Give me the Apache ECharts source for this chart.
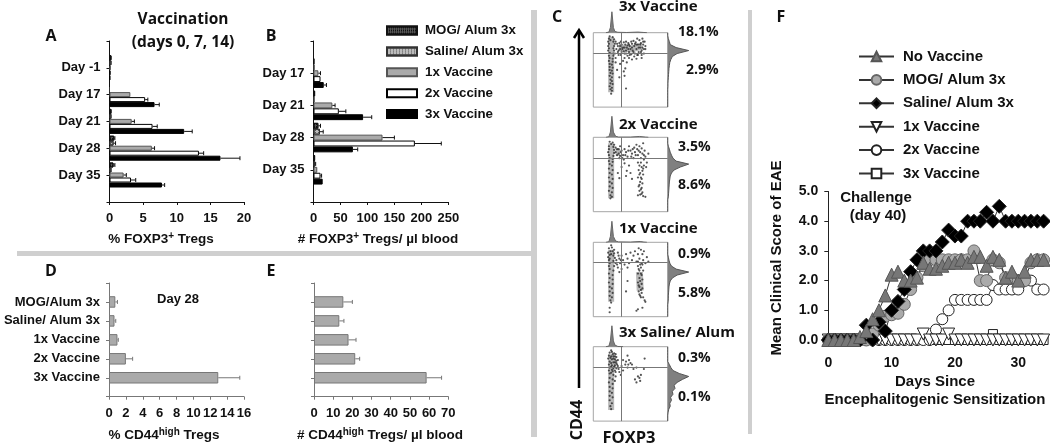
<!DOCTYPE html>
<html><head><meta charset="utf-8">
<style>html,body{margin:0;padding:0;background:#fff}#c{width:1050px;height:446px}</style>
<script src="https://cdn.jsdelivr.net/npm/echarts@6/dist/echarts.min.js"></script>
</head><body><div id="c"></div>
<script>
// ---- Panel A: % FOXP3+ Tregs
const daysA = ['Day -1','Day 17','Day 21','Day 28','Day 35'];
const aMog = [0.3,0,0.3,0.7,0.6];      const aMogE = [null,null,null,0.8,0.8];
const aSal = [0.3,0,0.3,0.6,0.3];      const aSalE = [null,null,null,0.9,null];
const a1x  = [0.2,3.1,3.3,6.3,2.1];    const a1xE  = [null,null,3.7,6.7,2.5];
const a2x  = [0.15,5.3,6.4,13.3,3.2];  const a2xE  = [null,5.7,7.1,14,3.9];
const a3x  = [0.1,6.7,11.1,16.5,7.8];  const a3xE  = [null,7.4,12.3,19.4,8.2];
// ---- Panel B: # FOXP3+ Tregs / ul blood
const daysB = ['Day 17','Day 21','Day 28','Day 35'];
const bMog = [1,3,9,3];        const bMogE = [null,null,13,null];
const bSal = [1,1,12,3];       const bSalE = [null,null,18,4];
const b1x  = [9,35,128,7];     const b1xE  = [13,40,150,null];
const b2x  = [13,47,188,13];   const b2xE  = [null,60,237,15];
const b3x  = [19,92,73,17];    const b3xE  = [24,108,82,null];
// ---- Panels D, E: day 28
const groups = ['MOG/Alum 3x','Saline/ Alum 3x','1x Vaccine','2x Vaccine','3x Vaccine'];
const dVals = [0.75,0.65,1.0,2.0,12.95];  const dErr = [1.0,0.8,1.1,2.8,15.5];
const eVals = [15.3,13.2,18,21.5,58.7];   const eErr = [20,15.6,21.9,23.8,66.5];
// ---- Panel F: mean clinical score, days 0-34
const noVaccine = [0,0,0,0,0,0.1,0.3,0.7,1.0,1.5,2.2,2.3,2.0,2.0,2.1,2.6,2.4,2.4,2.5,2.6,2.6,2.7,2.6,2.8,2.8,2.5,2.8,2.7,2.1,2.3,2.0,2.3,2.7,2.7,2.7];
const mogAlum   = [0,0,0,0,0,0,0,0.2,0.5,0.8,0.85,0.9,1.2,1.7,2.1,2.5,2.7,2.7,2.7,2.7,2.7,2.7,2.7,3.0,2.0,2.0,2.7,2.6,2.1,2.1,2.0,2.0,2.6,2.7,2.7];
const salAlum   = [0,0,0,0,0,0,0.5,0,0.6,0.3,1.0,1.3,1.7,2.3,2.7,3.0,3.0,3.0,3.3,3.7,3.5,3.5,4.0,4.0,4.0,4.3,4.0,4.5,4.0,4.0,4.0,4.0,4.0,4.0,4.0];
const vac1x     = [0,0,0,0,0,0,0,0,0,0,0,0,0,0,0,0.2,0,0,0,0.2,0,0,0,0,0,0,0,0,0,0,0,0,0,0,0];
const vac2x     = [0,0,0,0,0,0,0,0,0,0,0,0,0,0,0,0,0,0.35,0.7,1.0,1.35,1.35,1.35,1.35,1.35,1.35,1.85,1.7,1.7,1.7,1.7,2.0,2.0,1.7,1.7];
const vac3x     = [0,0,0,0,0,0,0,0,0,0,0,0,0,0,0,0,0,0,0,0,0,0,0,0,0,0,0.2,0,0,0,0,0,0,0,0];
// ---- Panel C: flow plots, values in percent of the plot box
const flowTitles = ['3x Vaccine','2x Vaccine','1x Vaccine','3x Saline/ Alum'];
const flowUpper = ['18.1%','3.5%','0.9%','0.3%'];
const flowLower = ['2.9%','8.6%','5.8%','0.1%'];
const flowGateX = [37,37,37.5,37.5];
const flowGateY = [72,72,73,72];
const flowBand1 = [[24,94],[24,20]];  const flowBlob1 = [[34,80],[50,78],[66,82]];
const flowBand2 = [[24,92],[24,18]];  const flowBlob2 = [[30,80],[36,80]];
const flowBand3 = [[24,90],[24,20]];  const flowBlob3 = [[62,60],[63,35]];
const flowBand4 = [[24,90],[24,15]];  const flowBlob4 = [[26,88],[26,72]];
const flowDots1 = [[22,95],[26,94],[21,92],[28,91],[23,90],[20,88],[27,88],[21,85],[29,85],[20,82],[28,82],[21,79],[27,79],[20,76],[28,76],[22,73],[27,72],[21,69],[27,69],[22,66],[26,65],[21,62],[26,61],[22,58],[25,57],[22,54],[26,53],[22,50],[25,49],[23,46],[26,45],[22,42],[25,40],[23,37],[25,35],[23,32],[26,31],[22,28],[25,26],[23,24],[25,22],[24,18],[30,88],[33,82],[35,86],[36,78],[38,84],[38,74],[40,80],[41,87],[42,72],[43,84],[44,76],[45,80],[46,69],[47,86],[48,74],[49,82],[50,78],[51,71],[52,85],[53,76],[54,89],[55,82],[56,72],[57,87],[58,78],[59,92],[60,84],[61,74],[62,90],[63,80],[64,86],[65,76],[66,92],[67,84],[68,78],[69,88],[70,82],[60,70],[55,68],[65,70],[68,72],[48,66],[42,66],[37,70],[36,58],[40,62],[45,60],[41,48],[43,52],[42,42],[44,25],[30,60],[32,50],[35,40],[52,64],[58,65],[65,66],[31,78],[33,74],[34,70],[44,88],[37,88],[47,78],[52,80],[58,84],[63,84],[66,80],[32,85],[34,76],[39,78],[41,75],[44,72],[46,83],[49,70],[51,88],[54,74],[56,85],[59,70],[61,80],[64,74],[67,88],[70,78],[29,72],[30,66],[36,82],[42,80],[48,84]];
const flowDots2 = [[22,94],[26,93],[24,91],[28,90],[21,88],[27,87],[30,86],[21,84],[28,83],[20,80],[28,79],[21,76],[27,75],[22,72],[26,71],[21,68],[26,67],[22,64],[25,62],[21,58],[26,56],[22,52],[25,50],[21,46],[26,44],[22,40],[25,38],[22,34],[26,32],[21,28],[25,26],[23,22],[25,20],[23,18],[32,84],[34,78],[35,72],[36,88],[38,82],[40,76],[41,70],[42,84],[44,80],[46,74],[48,88],[50,82],[52,78],[54,72],[55,86],[56,80],[58,90],[59,84],[60,76],[62,88],[63,80],[64,72],[65,85],[66,78],[67,92],[68,70],[69,82],[70,74],[72,66],[74,78],[71,60],[60,66],[62,62],[65,60],[68,62],[61,56],[66,55],[62,50],[67,50],[60,46],[65,44],[63,40],[66,38],[61,34],[65,32],[62,28],[66,26],[63,23],[67,21],[60,22],[70,20],[38,60],[42,65],[45,55],[44,48],[48,62],[50,52],[52,44],[33,52],[35,45],[30,80],[32,76],[34,84],[36,75],[37,80],[39,72],[43,76],[47,82],[51,74],[53,84],[57,76],[61,82],[64,66],[67,58],[63,52],[64,46],[62,36],[64,30],[65,24],[68,76]];
const flowDots3 = [[21,92],[25,93],[28,90],[23,88],[20,86],[28,85],[22,83],[27,82],[20,80],[29,79],[21,76],[27,75],[22,72],[30,72],[21,68],[28,68],[22,64],[27,62],[21,58],[26,56],[22,52],[26,50],[21,46],[26,44],[22,40],[25,38],[22,34],[26,32],[22,28],[25,26],[23,22],[24,19],[33,86],[35,78],[36,72],[38,82],[40,76],[42,70],[44,84],[46,78],[48,72],[50,86],[52,76],[54,82],[56,88],[58,74],[60,84],[61,92],[62,78],[64,90],[65,72],[66,84],[67,76],[68,88],[70,72],[72,80],[74,74],[60,68],[64,66],[62,62],[67,62],[60,58],[65,56],[62,52],[66,50],[60,46],[65,44],[62,40],[66,38],[61,34],[65,32],[63,28],[67,26],[69,22],[70,20],[46,48],[44,34],[35,60],[33,66],[38,64],[46,66],[60,10],[58,8],[66,12],[22,12],[22,6],[31,76],[32,70],[34,82],[37,76],[60,74],[63,70],[66,70],[61,64],[64,58],[63,48],[61,42],[64,36],[62,30],[64,26],[24,96],[26,88],[24,84],[22,78]];
const flowDots4 = [[22,92],[25,93],[28,91],[30,90],[21,88],[24,87],[27,87],[31,86],[20,84],[25,83],[29,83],[33,82],[22,80],[27,79],[31,78],[21,76],[25,75],[29,75],[33,74],[22,72],[27,71],[31,71],[21,68],[26,67],[30,66],[22,64],[27,62],[30,60],[22,58],[26,56],[29,54],[21,52],[26,50],[22,46],[26,44],[22,40],[25,38],[22,34],[26,32],[22,28],[25,24],[23,20],[24,16],[46,88],[69,84],[40,82],[44,80],[48,82],[50,78],[43,76],[47,76],[52,76],[38,74],[46,72],[54,70],[58,72],[68,70],[40,68],[37,62],[60,60],[64,62],[62,58],[56,56],[58,52],[63,54],[34,70],[35,66],[24,95],[26,90],[29,87],[23,85],[27,84],[31,81],[24,78],[29,79],[32,76],[24,73],[28,73],[25,69],[29,68],[24,65]];
const flowTop1 = [[17,0],[21,3],[23,25],[25,100],[27,25],[29,6],[33,2],[45,1],[60,3],[68,1],[72,0]];
const flowTop2 = [[17,0],[21,3],[23,25],[25,100],[27,25],[30,5],[34,1],[50,1],[62,4],[70,1],[74,0]];
const flowTop3 = [[17,0],[21,3],[23,28],[25,100],[27,28],[30,6],[34,2],[50,1],[63,4],[68,1],[72,0]];
const flowTop4 = [[17,0],[21,3],[23,28],[25,100],[27,28],[29,8],[33,1],[40,0]];
const flowSide1 = [0,0,3,8,12,40,100,45,22,15,10,8,6,5,4,3,2,1,1,0,0,0,0,0,0,0];
const flowSide2 = [0,0,0,3,8,12,18,25,40,100,60,30,18,12,10,8,7,6,5,4,3,0,0,0,0,0];
const flowSide3 = [0,0,0,0,0,3,6,10,18,40,100,45,22,12,8,6,5,4,3,3,2,0,0,0,0,0];
const flowSide4 = [0,0,0,0,0,0,8,15,25,55,100,70,45,30,35,22,25,14,18,10,12,5,2,0,0,0];

const SANS = '"Liberation Sans", Arial, sans-serif';
const OPEN = '"Open Sans", sans-serif';
const grid=[], xAxis=[], yAxis=[], series=[], graphic=[];

const rowStyle = {
  mog: {color:'#555', borderColor:'#111', borderWidth:1, decal:{symbol:'rect',symbolSize:1,dashArrayX:[1,1],dashArrayY:[2,1],rotation:0,color:'#111'}},
  sal: {color:'#bbb', borderColor:'#333', borderWidth:1, decal:{symbol:'rect',symbolSize:1,dashArrayX:[1,2],dashArrayY:[1,1],rotation:0,color:'#555'}},
  x1:  {color:'#aaa', borderColor:'#555', borderWidth:1},
  x2:  {color:'#fff', borderColor:'#000', borderWidth:1},
  x3:  {color:'#000', borderColor:'#000', borderWidth:1}
};

function errorSeries(xi, yi, vals, errs, slot, color){
  return {type:'custom', coordinateSystem:'cartesian2d', xAxisIndex:xi, yAxisIndex:yi, clip:false, silent:true, z:5,
    data: vals.map((v,i)=>[v,i,errs[i]]).filter(d=>d[2]!=null),
    encode:{x:0,y:1},
    renderItem(p,api){
      const a=api.coord([api.value(0),api.value(1)]), b=api.coord([api.value(2),api.value(1)]), y=a[1]+slot;
      const st={stroke:color,lineWidth:1,fill:null};
      return {type:'group',children:[
        {type:'line',shape:{x1:a[0],y1:y,x2:b[0],y2:y},style:st},
        {type:'line',shape:{x1:b[0],y1:y-2,x2:b[0],y2:y+2},style:st}]};
    }};
}

function barPanel(o){
  const fi=grid.length;
  // frame: carries the full-height vertical axis line
  grid.push({left:o.left,top:o.frameTop,width:o.width,height:o.frameH});
  xAxis.push({type:'value',gridIndex:fi,min:0,max:o.max,show:false});
  yAxis.push({type:'value',gridIndex:fi,min:0,max:o.slots,interval:1,inverse:true,
    axisLine:{show:true,lineStyle:{color:o.axisColor,width:1}},
    axisTick:{show:true,length:3,lineStyle:{color:o.axisColor}},axisLabel:{show:false},splitLine:{show:false}});
  const bi=grid.length, h=o.cats.length*o.band, top=o.frameTop+o.firstCentre-o.band/2;
  grid.push({left:o.left,top:top,width:o.width,height:h});
  xAxis.push({type:'value',gridIndex:bi,min:0,max:o.max,interval:o.step,
    offset:o.frameTop+o.frameH-(top+h),
    axisLine:{show:true,onZero:false,lineStyle:{color:o.axisColor,width:1}},
    axisTick:{show:true,length:3,lineStyle:{color:o.axisColor}},
    axisLabel:{show:true,margin:10,interval:0,hideOverlap:false,color:'#111',fontFamily:SANS,fontWeight:'bold',fontSize:13},splitLine:{show:false}});
  yAxis.push({type:'category',gridIndex:bi,data:o.cats,inverse:true,
    axisLine:{show:false},axisTick:{show:false},
    axisLabel:{show:o.showCats,interval:0,margin:9,color:'#111',fontFamily:SANS,fontWeight:'bold',fontSize:13}});
  const n=o.rows.length;
  o.rows.forEach((r,i)=>{
    series.push({type:'bar',name:r.name,xAxisIndex:bi,yAxisIndex:bi,data:r.vals,barWidth:o.barW,barGap:o.gap,itemStyle:r.style,silent:true,z:2});
    series.push(errorSeries(bi,bi,r.vals,r.errs,(i-(n-1)/2)*(o.barW*(1+parseFloat(o.gap)/100)),o.errColor));
  });
}

const legendNames=['MOG/ Alum 3x','Saline/ Alum 3x','1x Vaccine','2x Vaccine','3x Vaccine'];
barPanel({left:109.5,width:134.5,frameTop:41,frameH:161,slots:6,max:20,step:5,cats:daysA,band:26.8,firstCentre:26.8,barW:5,gap:'0%',axisColor:'#111',errColor:'#111',showCats:true,
  rows:[{name:legendNames[0],vals:aMog,errs:aMogE,style:rowStyle.mog},{name:legendNames[1],vals:aSal,errs:aSalE,style:rowStyle.sal},{name:legendNames[2],vals:a1x,errs:a1xE,style:rowStyle.x1},{name:legendNames[3],vals:a2x,errs:a2xE,style:rowStyle.x2},{name:legendNames[4],vals:a3x,errs:a3xE,style:rowStyle.x3}]});
barPanel({left:313.5,width:134.8,frameTop:41,frameH:161,slots:5,max:250,step:50,cats:daysB,band:32.2,firstCentre:32.2,barW:5.9,gap:'0%',axisColor:'#111',errColor:'#111',showCats:true,
  rows:[{name:legendNames[0],vals:bMog,errs:bMogE,style:rowStyle.mog},{name:legendNames[1],vals:bSal,errs:bSalE,style:rowStyle.sal},{name:legendNames[2],vals:b1x,errs:b1xE,style:rowStyle.x1},{name:legendNames[3],vals:b2x,errs:b2xE,style:rowStyle.x2},{name:legendNames[4],vals:b3x,errs:b3xE,style:rowStyle.x3}]});
const singleBar={color:'#aaa',borderColor:'#777',borderWidth:1};
barPanel({left:109,width:135,frameTop:283,frameH:113.7,slots:6,max:16,step:2,cats:groups,band:18.95,firstCentre:18.95,barW:11.5,gap:'0%',axisColor:'#777',errColor:'#777',showCats:true,
  rows:[{name:'D',vals:dVals,errs:dErr,style:singleBar}]});
barPanel({left:314,width:134.3,frameTop:283,frameH:113.7,slots:6,max:70,step:10,cats:groups,band:18.95,firstCentre:18.95,barW:11.5,gap:'0%',axisColor:'#777',errColor:'#777',showCats:false,
  rows:[{name:'E',vals:eVals,errs:eErr,style:singleBar}]});

// ---- Panel C grids
const flowTops=[32.7,137.3,242.3,346.7];
const BOX=74.4, BL=593.3, HH=21;
const sideBins=flowSide1.map((_,i)=>String(i));
[[flowDots1,flowBand1,flowBlob1,flowTop1,flowSide1],[flowDots2,flowBand2,flowBlob2,flowTop2,flowSide2],[flowDots3,flowBand3,flowBlob3,flowTop3,flowSide3],[flowDots4,flowBand4,flowBlob4,flowTop4,flowSide4]].forEach((p,k)=>{
  const T=flowTops[k];
  let g=grid.length;
  grid.push({left:BL,top:T,width:BOX,height:BOX,show:true,borderColor:'#a5a5a5',borderWidth:1,backgroundColor:'rgba(0,0,0,0)'});
  xAxis.push({type:'value',gridIndex:g,min:0,max:100,show:false});
  yAxis.push({type:'value',gridIndex:g,min:0,max:100,show:false});
  series.push({type:'line',xAxisIndex:g,yAxisIndex:g,data:p[1],showSymbol:false,silent:true,lineStyle:{color:'#b8b8b8',width:6}});
  series.push({type:'line',xAxisIndex:g,yAxisIndex:g,data:p[2],showSymbol:false,silent:true,lineStyle:{color:'#b8b8b8',width:7}});
  series.push({type:'scatter',xAxisIndex:g,yAxisIndex:g,data:p[0],symbolSize:2.2,silent:true,itemStyle:{color:'#2a2a2a'},z:3,
    markLine:{silent:true,symbol:'none',label:{show:false},animation:false,lineStyle:{color:'#777',width:1,type:'solid'},data:[{xAxis:flowGateX[k]},{yAxis:flowGateY[k]}]}});
  g=grid.length;
  grid.push({left:BL,top:T-HH,width:BOX,height:HH});
  xAxis.push({type:'value',gridIndex:g,min:0,max:100,show:false});
  yAxis.push({type:'value',gridIndex:g,min:0,max:100,show:false});
  series.push({type:'line',xAxisIndex:g,yAxisIndex:g,data:p[3],showSymbol:false,silent:true,lineStyle:{color:'#666',width:1},areaStyle:{color:'#808080',opacity:1}});
  g=grid.length;
  grid.push({left:BL+BOX,top:T,width:HH,height:BOX});
  xAxis.push({type:'value',gridIndex:g,min:0,max:100,show:false});
  yAxis.push({type:'category',gridIndex:g,data:sideBins,boundaryGap:false,inverse:true,show:false});
  series.push({type:'line',xAxisIndex:g,yAxisIndex:g,data:p[4],showSymbol:false,silent:true,lineStyle:{color:'#555',width:1},areaStyle:{color:'#808080',opacity:1}});
});

// ---- Panel F
const fi=grid.length;
grid.push({left:828.3,top:191.5,width:215.3,height:148.5});
xAxis.push({type:'value',gridIndex:fi,min:0,max:34,interval:10,
  axisLine:{onZero:false,lineStyle:{color:'#000',width:1}},axisTick:{show:false},splitLine:{show:false},
  axisLabel:{showMaxLabel:false,margin:16,color:'#111',fontFamily:SANS,fontWeight:'bold',fontSize:14}});
yAxis.push({type:'value',gridIndex:fi,min:0,max:5,interval:1,
  axisLine:{show:true,onZero:false,lineStyle:{color:'#222',width:1}},axisTick:{show:true,length:4,lineStyle:{color:'#222'}},splitLine:{show:false},
  axisLabel:{margin:10,color:'#111',fontFamily:SANS,fontWeight:'bold',fontSize:14,formatter:v=>v.toFixed(1)}});
const fLine=(name,vals,symbol,size,fill,rot,border)=>series.push({type:'line',name:'F '+name,xAxisIndex:fi,yAxisIndex:fi,clip:false,silent:true,
  data:vals.map((v,i)=>[i,v]),symbol,symbolSize:size,symbolRotate:rot||0,showSymbol:true,showAllSymbol:true,
  lineStyle:{color:'#333',width:1},itemStyle:{color:fill,borderColor:border||'#222',borderWidth:1}});
fLine('3x Vaccine',vac3x,'rect',9,'#fff');
fLine('2x Vaccine',vac2x,'circle',11,'#fff');
fLine('1x Vaccine',vac1x,'triangle',12,'#fff',180);
fLine('MOG/ Alum 3x',mogAlum,'circle',12,'#aaa',0,'#666');
fLine('Saline/ Alum 3x',salAlum,'diamond',14,'#000');
fLine('No Vaccine',noVaccine,'triangle',13,'#777',0,'#555');

// ---- Text and decoration
function T(text,x,y,font,size,o){o=o||{};graphic.push({type:'text',x,y,rotation:o.rot||0,silent:true,z:20,style:{text,align:o.align||'center',verticalAlign:'middle',fontFamily:font,fontWeight:'bold',fontSize:size,fill:o.fill||'#111',rich:o.rich}});}
function R(x,y,w,h){graphic.push({type:'rect',silent:true,z:1,shape:{x,y,width:w,height:h},style:{fill:'#cfcfcf'}});}
R(17,251,515,5); R(531,10,6,427); R(748,10,4,424);
[['A',51,36],['B',271,36],['C',557,17],['D',51,271],['E',271,271],['F',781,17]].forEach(l=>T(l[0],l[1],l[2],OPEN,16));
T('Vaccination',183,20,OPEN,15.5); T('(days 0, 7, 14)',183,43,OPEN,15.5);
const sup2={s:{fontFamily:SANS,fontWeight:'bold',fontSize:10,padding:[0,0,6,0],fill:'#111'}};
T('% FOXP3{s|+} Tregs',161,239,SANS,13.5,{rich:sup2});
T('# FOXP3{s|+} Tregs/ µl blood',378,239,SANS,13.5,{rich:sup2});
T('% CD44{s|high} Tregs',164,435,SANS,13.5,{rich:sup2});
T('# CD44{s|high} Tregs/ µl blood',380,435,SANS,13.5,{rich:sup2});
T('Day 28',178,299,SANS,13);
[7,125,229,333].forEach((y,i)=>T(flowTitles[i],619,y,OPEN,15,{align:'left'}));
[[32,70],[147,185],[254,293],[358,397]].forEach((ys,i)=>{
  T(flowUpper[i],678,ys[0],OPEN,14,{align:'left'});
  T(flowLower[i],i==0?686:678,ys[1],OPEN,14,{align:'left'});
});
T('FOXP3',629,438,OPEN,16.5);
T('CD44',577,420,OPEN,16,{rot:Math.PI/2});
graphic.push({type:'line',silent:true,z:20,shape:{x1:579,y1:388,x2:579,y2:32},style:{stroke:'#000',lineWidth:2.5}});
graphic.push({type:'polyline',silent:true,z:20,shape:{points:[[574,38],[579,30],[584,38]]},style:{stroke:'#000',lineWidth:2.5,fill:null}});
T('Mean Clinical Score of EAE',777,258,SANS,15,{rot:Math.PI/2});
T('Days Since',935,382,SANS,15); T('Encephalitogenic Sensitization',935,400,SANS,15);
T('Challenge',876,198,SANS,15); T('(day 40)',878,216,SANS,15);

const fLegend=['No Vaccine','MOG/ Alum 3x','Saline/ Alum 3x','1x Vaccine','2x Vaccine','3x Vaccine'];
const chart=echarts.init(document.getElementById('c'),null,{renderer:'canvas'});
chart.setOption({animation:false,backgroundColor:'#fff',grid,xAxis,yAxis,series,graphic,
  legend:[
    {left:386,top:24,padding:0,orient:'vertical',selectedMode:false,data:legendNames,icon:'rect',itemWidth:30,itemHeight:8,itemGap:7.9,
     textStyle:{fontFamily:SANS,fontWeight:'bold',fontSize:13.3,color:'#111',padding:[0,0,0,3]}},
    {left:858,top:49,padding:0,orient:'vertical',selectedMode:false,data:fLegend.map(n=>'F '+n),itemWidth:35,itemHeight:12,itemGap:8.4,
     formatter:n=>n.slice(2),textStyle:{fontFamily:SANS,fontWeight:'bold',fontSize:15,color:'#111',padding:[0,0,0,4]}}
  ]});
</script></body></html>
